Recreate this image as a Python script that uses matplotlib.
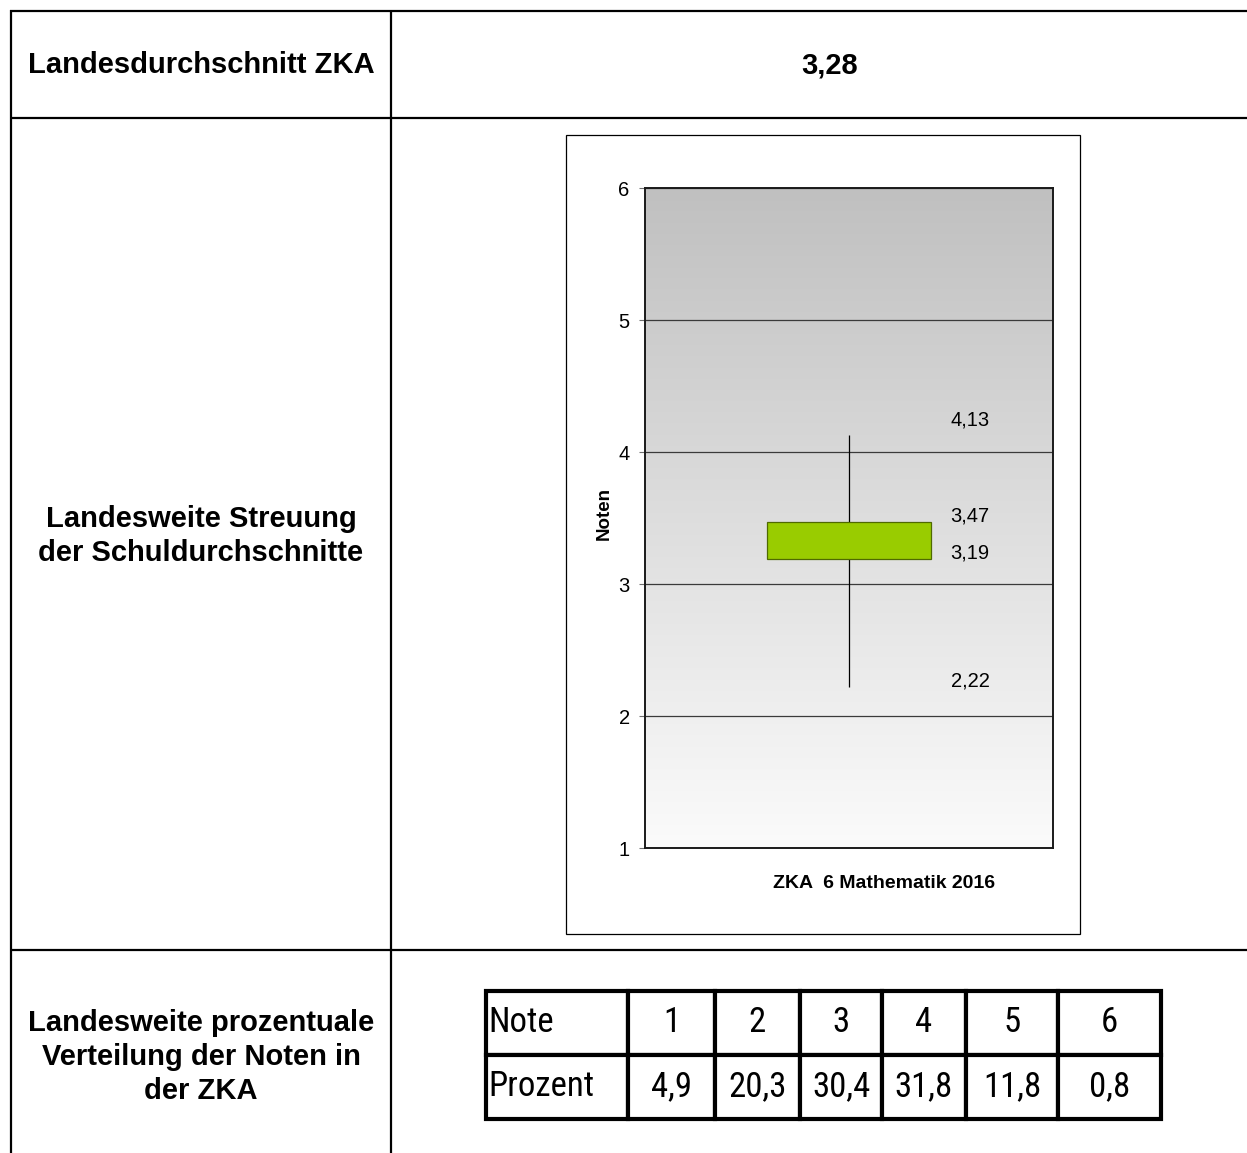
import numpy as np
import matplotlib
matplotlib.use('Agg')
import matplotlib.pyplot as plt
from matplotlib.colors import LinearSegmentedColormap
from matplotlib.patches import Rectangle

plt.rcParams['font.family'] = ['Liberation Sans', 'DejaVu Sans']

# data
landesschnitt = 3.28
box_lo, box_q1, box_q3, box_hi = 2.22, 3.19, 3.47, 4.13
noten = ['1', '2', '3', '4', '5', '6']
prozent = [4.9, 20.3, 30.4, 31.8, 11.8, 0.8]
y_ticks = [1, 2, 3, 4, 5, 6]

W, H = 1247, 1153
fig = plt.figure(figsize=(W / 100, H / 100), dpi=100)


def de(v, nd=2):
    return f"{v:.{nd}f}".replace('.', ',')


def frac(x0, y0, x1, y1):
    # pixel box (top-left origin) -> figure fraction rect
    return [x0 / W, 1 - y1 / H, (x1 - x0) / W, (y1 - y0) / H]


# background axes in pixel coords for the outer table
bg = fig.add_axes([0, 0, 1, 1])
bg.set_xlim(0, W)
bg.set_ylim(H, 0)
bg.axis('off')

lw = 1.6
for y in (11, 118, 950):
    bg.plot([10, W], [y, y], color='black', lw=lw, solid_capstyle='butt')
for x in (11, 391):
    bg.plot([x, x], [10, H], color='black', lw=lw, solid_capstyle='butt')

big = dict(fontsize=21, fontweight='bold', ha='center', va='center')
bg.text(201, 65, 'Landesdurchschnitt ZKA', **big)
bg.text(830, 65, de(landesschnitt), **big)
bg.text(201, 536, 'Landesweite Streuung\nder Schuldurchschnitte',
        linespacing=1.28, **big)
bg.text(201, 1057, 'Landesweite prozentuale\nVerteilung der Noten in\nder ZKA',
        linespacing=1.28, **big)

# chart frame
bg.add_patch(Rectangle((566, 135), 514, 799, fill=False, edgecolor='black', lw=0.9))

# ========================================================
# box chart
# ========================================================
ax = fig.add_axes(frac(645, 188, 1053, 848))
ax.set_xlim(-0.5, 0.5)
ax.set_ylim(1, 6)

grad = LinearSegmentedColormap.from_list('g', ['#fbfbfb', '#c0c0c0'])
ax.imshow(np.linspace(0, 1, 256).reshape(-1, 1), extent=[-0.5, 0.5, 1, 6],
          aspect='auto', origin='lower', cmap=grad, zorder=0)
ax.set_yticks(y_ticks)
ax.grid(axis='y', color='#3a3a3a', lw=0.9, zorder=1)
ax.set_xticks([])

ax.vlines(0, box_lo, box_hi, color='black', lw=0.9, zorder=2)
ax.bar(0, box_q3 - box_q1, bottom=box_q1, width=0.4, color='#99cc00',
       edgecolor='#4f6a00', lw=0.9, zorder=3)

offsets = [4, 4, 4, 11]
for v, off in zip([box_lo, box_q1, box_q3, box_hi], offsets):
    ax.annotate(de(v), xy=(0.297, v), xytext=(0, off), textcoords='offset points',
                ha='center', va='center', fontsize=14.5)

for s in ax.spines.values():
    s.set_color('#1a1a1a')
    s.set_linewidth(1.4)
ax.tick_params(axis='y', length=4, width=0.8, color='#707070', pad=7, labelsize=14.5)
ax.set_ylabel('Noten', fontsize=13.5, fontweight='bold')
ax.yaxis.label.set_va('center')
ax.yaxis.set_label_coords((604 - 645) / 408, (848 - 513) / 660)
ax.set_xlabel('ZKA  6 Mathematik 2016', fontsize=14, fontweight='bold')
ax.xaxis.label.set_va('center')
ax.xaxis.set_label_coords((884 - 645) / 408, (848 - 884) / 660)

# ========================================================
# grade distribution table
# ========================================================
tax = fig.add_axes(frac(486, 991, 1161, 1119))
tax.axis('off')
cells = [['Note'] + noten, ['Prozent'] + [de(p, 1) for p in prozent]]
col_px = [142, 87, 85, 82, 84, 92, 103]
tab = tax.table(cellText=cells, colWidths=[c / sum(col_px) for c in col_px],
                cellLoc='center', bbox=[0, 0, 1, 1])
tab.auto_set_font_size(False)
for (r, c), cell in tab.get_celld().items():
    cell.set_linewidth(3)
    cell.set_edgecolor('black')
    t = cell.get_text()
    t.set_fontfamily(['Roboto Condensed', 'DejaVu Sans'])
    t.set_fontstretch('condensed')
    t.set_fontsize(25)
    if c == 0:
        cell.PAD = 0.02
        t.set_ha('left')
        cell._loc = 'left'

fig.savefig('out.png', dpi=100)
